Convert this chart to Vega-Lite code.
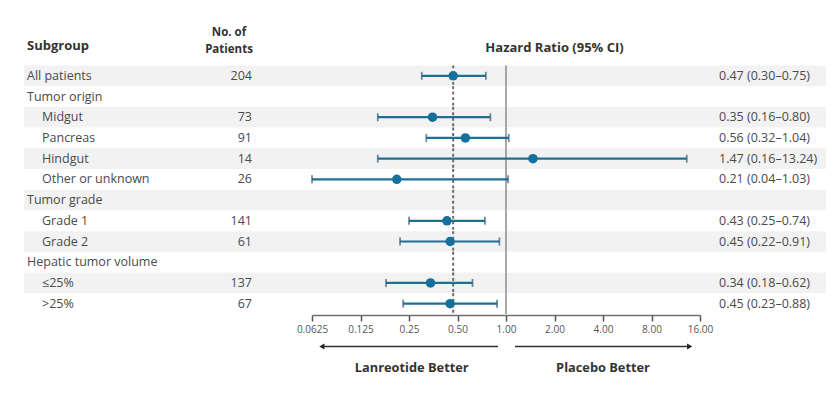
{
  "$schema": "https://vega.github.io/schema/vega-lite/v6.json",
  "padding": {"left": 24, "top": 24, "right": 5, "bottom": 5},
  "spacing": 0,
  "config": {
    "view": {"stroke": null},
    "font": "Open Sans",
    "text": {"font": "Open Sans"}
  },
  "datasets": {
    "rows": [
      {"label": "All patients", "level": 0, "n": 204, "hr": 0.47, "lo": 0.30, "hi": 0.75, "ci": "0.47 (0.30–0.75)"},
      {"label": "Tumor origin", "level": 0, "n": null, "hr": null, "lo": null, "hi": null, "ci": null},
      {"label": "Midgut", "level": 1, "n": 73, "hr": 0.35, "lo": 0.16, "hi": 0.80, "ci": "0.35 (0.16–0.80)"},
      {"label": "Pancreas", "level": 1, "n": 91, "hr": 0.56, "lo": 0.32, "hi": 1.04, "ci": "0.56 (0.32–1.04)"},
      {"label": "Hindgut", "level": 1, "n": 14, "hr": 1.47, "lo": 0.16, "hi": 13.24, "ci": "1.47 (0.16–13.24)"},
      {"label": "Other or unknown", "level": 1, "n": 26, "hr": 0.21, "lo": 0.04, "hi": 1.03, "ci": "0.21 (0.04–1.03)"},
      {"label": "Tumor grade", "level": 0, "n": null, "hr": null, "lo": null, "hi": null, "ci": null},
      {"label": "Grade 1", "level": 1, "n": 141, "hr": 0.43, "lo": 0.25, "hi": 0.74, "ci": "0.43 (0.25–0.74)"},
      {"label": "Grade 2", "level": 1, "n": 61, "hr": 0.45, "lo": 0.22, "hi": 0.91, "ci": "0.45 (0.22–0.91)"},
      {"label": "Hepatic tumor volume", "level": 0, "n": null, "hr": null, "lo": null, "hi": null, "ci": null},
      {"label": "≤25%", "level": 1, "n": 137, "hr": 0.34, "lo": 0.18, "hi": 0.62, "ci": "0.34 (0.18–0.62)"},
      {"label": ">25%", "level": 1, "n": 67, "hr": 0.45, "lo": 0.23, "hi": 0.88, "ci": "0.45 (0.23–0.88)"}
    ]
  },
  "hconcat": [
    {
      "width": 176,
      "height": 290,
      "layer": [
        {
          "data": {"name": "rows"},
          "transform": [{"window": [{"op": "row_number", "as": "rn"}]}, {"filter": "datum.rn % 2 == 1"}],
          "mark": {"type": "rect", "color": "#f2f2f2"},
          "encoding": {
            "y": {"field": "label", "type": "nominal", "axis": null, "scale": {"domain": ["hdr0", "hdr", "All patients", "Tumor origin", "Midgut", "Pancreas", "Hindgut", "Other or unknown", "Tumor grade", "Grade 1", "Grade 2", "Hepatic tumor volume", "≤25%", ">25%"], "paddingInner": 0, "paddingOuter": 0}}
          }
        },
        {
          "data": {"name": "rows"},
          "mark": {"type": "text", "align": "left", "baseline": "middle", "fontSize": 12.5, "color": "#4a4a4a"},
          "encoding": {
            "x": {"field": "level", "type": "ordinal", "axis": null, "scale": {"type": "point", "domain": [0, 1], "range": [3, 18], "padding": 0}},
            "y": {"field": "label", "type": "nominal", "axis": null},
            "text": {"field": "label"}
          }
        },
        {
          "data": {"values": [{"h": "Subgroup", "level": 0}]},
          "mark": {"type": "text", "align": "left", "baseline": "middle", "fontSize": 13, "fontWeight": "bold", "color": "#333333", "dy": -9},
          "encoding": {
            "x": {"field": "level", "type": "ordinal", "axis": null},
            "y": {"datum": "hdr"},
            "text": {"field": "h"}
          }
        }
      ]
    },
    {
      "width": 58,
      "height": 290,
      "layer": [
        {
          "data": {"name": "rows"},
          "transform": [{"window": [{"op": "row_number", "as": "rn"}]}, {"filter": "datum.rn % 2 == 1"}],
          "mark": {"type": "rect", "color": "#f2f2f2"},
          "encoding": {
            "y": {"field": "label", "type": "nominal", "axis": null, "scale": {"domain": ["hdr0", "hdr", "All patients", "Tumor origin", "Midgut", "Pancreas", "Hindgut", "Other or unknown", "Tumor grade", "Grade 1", "Grade 2", "Hepatic tumor volume", "≤25%", ">25%"], "paddingInner": 0, "paddingOuter": 0}}
          }
        },
        {
          "data": {"name": "rows"},
          "transform": [{"filter": "isValid(datum.n)"}],
          "mark": {"type": "text", "align": "right", "baseline": "middle", "fontSize": 12.5, "color": "#4a4a4a", "x": "width", "dx": -6},
          "encoding": {
            "y": {"field": "label", "type": "nominal", "axis": null},
            "text": {"field": "n"}
          }
        },
        {
          "data": {"values": [{"h": "No. of", "r": "hdr0"}]},
          "mark": {"type": "text", "align": "center", "baseline": "middle", "fontSize": 11.5, "fontWeight": "bold", "color": "#333333", "dy": -1},
          "encoding": {
            "y": {"field": "r", "type": "nominal", "axis": null},
            "text": {"field": "h"}
          }
        },
        {
          "data": {"values": [{"h": "Patients", "r": "hdr"}]},
          "mark": {"type": "text", "align": "center", "baseline": "middle", "fontSize": 11.5, "fontWeight": "bold", "color": "#333333", "dy": -5},
          "encoding": {
            "y": {"field": "r", "type": "nominal", "axis": null},
            "text": {"field": "h"}
          }
        }
      ]
    },
    {
      "bounds": "flush",
      "spacing": 22,
      "vconcat": [
        {
          "width": 461,
          "height": 290,
          "layer": [
            {
              "data": {"name": "rows"},
              "transform": [{"window": [{"op": "row_number", "as": "rn"}]}, {"filter": "datum.rn % 2 == 1"}],
              "mark": {"type": "rect", "color": "#f2f2f2"},
              "encoding": {
                "y": {"field": "label", "type": "nominal", "axis": null, "scale": {"domain": ["hdr0", "hdr", "All patients", "Tumor origin", "Midgut", "Pancreas", "Hindgut", "Other or unknown", "Tumor grade", "Grade 1", "Grade 2", "Hepatic tumor volume", "≤25%", ">25%"], "paddingInner": 0, "paddingOuter": 0}}
              }
            },
            {
              "data": {"name": "rows"},
              "mark": {"type": "rect", "fill": null, "stroke": "#8c8c8c", "strokeWidth": 1.5},
              "encoding": {
                "x": {"datum": 1, "type": "quantitative", "scale": {"type": "log", "base": 2, "domain": [0.0625, 16], "range": [54, 442], "clamp": true, "nice": false},
                  "axis": {"values": [0.0625, 0.125, 0.25, 0.5, 1, 2, 4, 8, 16], "labelExpr": "datum.value < 0.3 ? '' + datum.value : format(datum.value, '.2f')", "title": null, "grid": false, "domainColor": "#707070", "domainWidth": 1.5, "tickColor": "#555555", "tickWidth": 1.5, "tickSize": 6, "labelFontSize": 10, "labelColor": "#555555", "labelPadding": 3, "offset": 1, "labelFlush": false, "labelOverlap": false}},
                "x2": {"datum": 1},
                "y": {"field": "label", "type": "nominal", "axis": null}
              }
            },
            {
              "data": {"name": "rows"},
              "mark": {"type": "rect", "fill": null, "stroke": "#6a6a6a", "strokeWidth": 2, "strokeDash": [2, 3.5]},
              "encoding": {
                "x": {"datum": 0.47, "type": "quantitative"},
                "x2": {"datum": 0.47},
                "y": {"field": "label", "type": "nominal", "axis": null}
              }
            },
            {
              "data": {"name": "rows"},
              "transform": [{"filter": "isValid(datum.hr)"}],
              "mark": {"type": "rule", "color": "#1f6f93", "strokeWidth": 2.2},
              "encoding": {
                "x": {"field": "lo", "type": "quantitative"},
                "x2": {"field": "hi"},
                "y": {"field": "label", "type": "nominal", "axis": null}
              }
            },
            {
              "data": {"name": "rows"},
              "transform": [{"filter": "isValid(datum.hr)"}],
              "mark": {"type": "tick", "color": "#2d5c72", "size": 8, "thickness": 1.8, "orient": "vertical"},
              "encoding": {
                "x": {"field": "lo", "type": "quantitative"},
                "y": {"field": "label", "type": "nominal", "axis": null}
              }
            },
            {
              "data": {"name": "rows"},
              "transform": [{"filter": "isValid(datum.hr)"}],
              "mark": {"type": "tick", "color": "#2d5c72", "size": 8, "thickness": 1.8, "orient": "vertical"},
              "encoding": {
                "x": {"field": "hi", "type": "quantitative"},
                "y": {"field": "label", "type": "nominal", "axis": null}
              }
            },
            {
              "data": {"name": "rows"},
              "transform": [{"filter": "isValid(datum.hr)"}],
              "mark": {"type": "circle", "color": "#15709c", "opacity": 1, "size": 90},
              "encoding": {
                "x": {"field": "hr", "type": "quantitative"},
                "y": {"field": "label", "type": "nominal", "axis": null}
              }
            },
            {
              "data": {"values": [{"h": "Hazard Ratio (95% CI)", "pos": 2}]},
              "mark": {"type": "text", "align": "center", "baseline": "middle", "fontSize": 13, "fontWeight": "bold", "color": "#333333", "dy": -7},
              "encoding": {
                "x": {"field": "pos", "type": "quantitative"},
                "y": {"datum": "hdr"},
                "text": {"field": "h"}
              }
            }
          ]
        },
        {
          "width": 461,
          "height": 42,
          "data": {"values": [
            {"side": "Lanreotide Better", "from": 0.892, "to": 0.072, "mid": 0.26, "dir": "left"},
            {"side": "Placebo Better", "from": 1.137, "to": 13.8, "mid": 4.0, "dir": "right"}
          ]},
          "layer": [
            {
              "mark": {"type": "rule", "color": "#333333", "strokeWidth": 1.5},
              "encoding": {
                "x": {"field": "from", "type": "quantitative", "axis": null, "scale": {"type": "log", "base": 2, "domain": [0.0625, 16], "range": [54, 442], "clamp": true, "nice": false}},
                "x2": {"field": "to"},
                "y": {"datum": "arrow", "type": "nominal", "axis": null, "scale": {"domain": ["arrow", "label"], "paddingInner": 0, "paddingOuter": 0}}
              }
            },
            {
              "mark": {"type": "point", "filled": true, "color": "#222222", "opacity": 1, "size": 35},
              "encoding": {
                "x": {"field": "to", "type": "quantitative"},
                "y": {"datum": "arrow", "type": "nominal"},
                "shape": {"field": "dir", "type": "nominal", "legend": null, "scale": {"domain": ["left", "right"], "range": ["triangle-left", "triangle-right"]}}
              }
            },
            {
              "mark": {"type": "text", "align": "center", "baseline": "middle", "fontSize": 12.8, "fontWeight": "bold", "color": "#333333"},
              "encoding": {
                "x": {"field": "mid", "type": "quantitative"},
                "y": {"datum": "label", "type": "nominal"},
                "text": {"field": "side"}
              }
            }
          ]
        }
      ]
    },
    {
      "width": 107,
      "height": 290,
      "layer": [
        {
          "data": {"name": "rows"},
          "transform": [{"window": [{"op": "row_number", "as": "rn"}]}, {"filter": "datum.rn % 2 == 1"}],
          "mark": {"type": "rect", "color": "#f2f2f2"},
          "encoding": {
            "y": {"field": "label", "type": "nominal", "axis": null, "scale": {"domain": ["hdr0", "hdr", "All patients", "Tumor origin", "Midgut", "Pancreas", "Hindgut", "Other or unknown", "Tumor grade", "Grade 1", "Grade 2", "Hepatic tumor volume", "≤25%", ">25%"], "paddingInner": 0, "paddingOuter": 0}}
          }
        },
        {
          "data": {"name": "rows"},
          "transform": [{"filter": "isValid(datum.ci)"}],
          "mark": {"type": "text", "align": "left", "baseline": "middle", "fontSize": 12.5, "color": "#4a4a4a", "x": 0},
          "encoding": {
            "y": {"field": "label", "type": "nominal", "axis": null},
            "text": {"field": "ci"}
          }
        }
      ]
    }
  ]
}
